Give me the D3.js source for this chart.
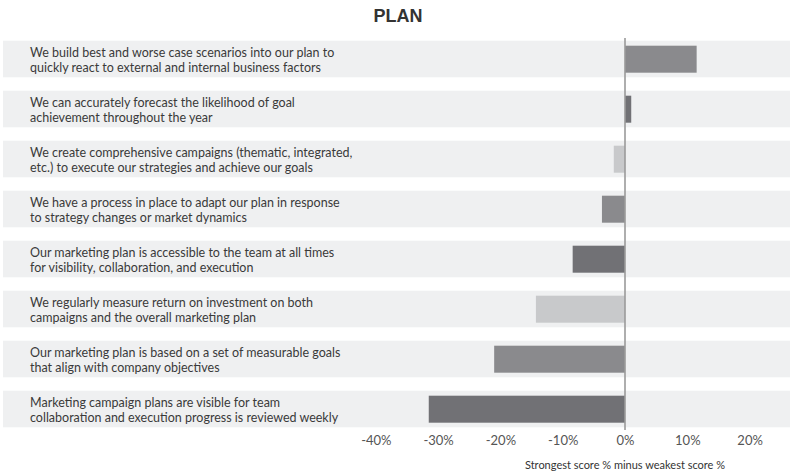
<!DOCTYPE html>
<html>
<head>
<meta charset="utf-8">
<script src="https://cdn.jsdelivr.net/npm/d3@7"></script>
<style>
  html, body { margin: 0; padding: 0; background: #fff; }
  svg { display: block; }
</style>
</head>
<body>
<svg id="chart" width="790" height="475"></svg>
<script>
// Statements (two lines each), top to bottom
const statements = [
  ["We build best and worse case scenarios into our plan to", "quickly react to external and internal business factors"],
  ["We can accurately forecast the likelihood of goal", "achievement throughout the year"],
  ["We create comprehensive campaigns (thematic, integrated,", "etc.) to execute our strategies and achieve our goals"],
  ["We have a process in place to adapt our plan in response", "to strategy changes or market dynamics"],
  ["Our marketing plan is accessible to the team at all times", "for visibility, collaboration, and execution"],
  ["We regularly measure return on investment on both", "campaigns and the overall marketing plan"],
  ["Our marketing plan is based on a set of measurable goals", "that align with company objectives"],
  ["Marketing campaign plans are visible for team", "collaboration and execution progress is reviewed weekly"]
];
// Strongest score % minus weakest score %
const scoreGap = [11.5, 1.0, -1.8, -3.7, -8.4, -14.3, -21.0, -31.5];
// Bar shade cycle
const shadeCycle = ["#8a8a8d", "#717175", "#c8c9cb"];
const tickValues = [-40, -30, -20, -10, 0, 10, 20];

const svg = d3.select("#chart");
const W = 790;

const x = d3.scaleLinear().domain([-40, 20]).range([375.8, 749.6]);
const y = d3.scaleBand().domain(d3.range(statements.length)).range([40.7, 440.7]).paddingInner(0);
const bandH = 36.6;

// Title
svg.append("text")
  .attr("x", 398).attr("y", 22)
  .attr("text-anchor", "middle")
  .attr("font-family", "'Liberation Sans', Arial, sans-serif")
  .attr("font-weight", "bold")
  .attr("font-size", 18)
  .attr("fill", "#333")
  .text("PLAN");

// Row backgrounds
const rows = svg.append("g");
rows.selectAll("rect.band")
  .data(statements)
  .join("rect")
  .attr("class", "band")
  .attr("x", 3).attr("width", W - 3)
  .attr("y", (d, i) => y(i))
  .attr("height", bandH)
  .attr("fill", "#eff0f1");

// Statement labels
rows.selectAll("text.label")
  .data(statements)
  .join("text")
  .attr("class", "label")
  .attr("font-family", "Lato, 'Open Sans', sans-serif")
  .attr("font-size", 12.5)
  .attr("fill", "#3a3a3a")
  .each(function(d, i) {
    const t = d3.select(this);
    d.forEach((line, k) => {
      t.append("tspan")
        .attr("x", 30)
        .attr("y", y(i) + 16 + k * 15)
        .text(line);
    });
  });

// Bars
svg.append("g").selectAll("rect.bar")
  .data(scoreGap)
  .join("rect")
  .attr("class", "bar")
  .attr("x", d => x(Math.min(0, d)))
  .attr("width", d => Math.abs(x(d) - x(0)))
  .attr("y", (d, i) => y(i) + 5)
  .attr("height", 27)
  .attr("fill", (d, i) => shadeCycle[i % 3]);

// Zero line
svg.append("line")
  .attr("x1", x(0)).attr("x2", x(0))
  .attr("y1", 38).attr("y2", 430)
  .attr("stroke", "#9a9a9a")
  .attr("stroke-width", 1.6);

// Axis ticks labels
const axis = d3.axisBottom(x)
  .tickValues(tickValues)
  .tickFormat(d => d + "%")
  .tickSize(0)
  .tickPadding(0);
const gAxis = svg.append("g")
  .attr("transform", "translate(0,436)")
  .call(axis);
gAxis.select(".domain").remove();
gAxis.selectAll("text")
  .attr("font-family", "Lato, 'Open Sans', sans-serif")
  .attr("font-size", 13)
  .attr("fill", "#555")
  .attr("dy", "0.71em");

// Axis title
svg.append("text")
  .attr("x", x(0)).attr("y", 469)
  .attr("text-anchor", "middle")
  .attr("font-family", "Lato, 'Open Sans', sans-serif")
  .attr("font-size", 11)
  .attr("fill", "#333")
  .text("Strongest score % minus weakest score %");
</script>
</body>
</html>
